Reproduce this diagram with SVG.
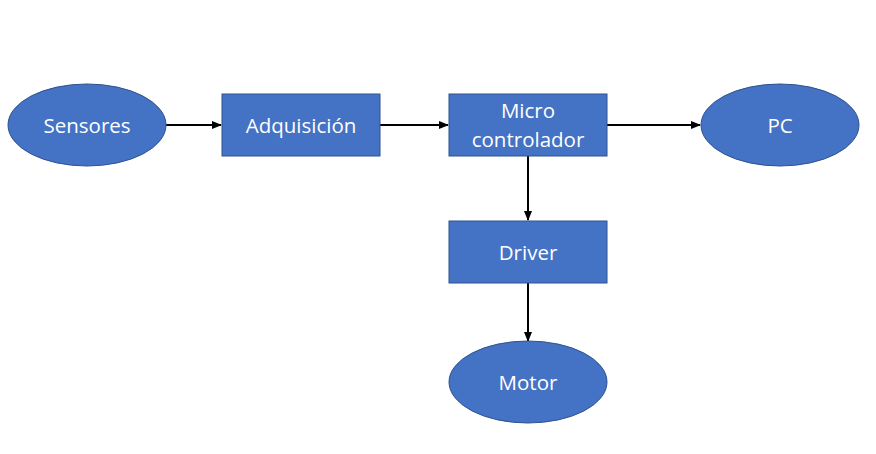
<svg xmlns="http://www.w3.org/2000/svg" width="876" height="454" viewBox="0 0 876 454">
<defs>
<style>
.n{fill:#4472C4;stroke:#2F528F;stroke-width:1}
.t{fill:#fff;font-family:"Open Sans","Liberation Sans",sans-serif;font-size:20.5px;text-anchor:middle;dominant-baseline:central}
.c{stroke:#000;stroke-width:2;fill:none}
</style>
<marker id="a" markerWidth="10" markerHeight="8" refX="9" refY="4" orient="auto" markerUnits="userSpaceOnUse">
<path d="M0,0 L10,4 L0,8 Z" fill="#000"/>
</marker>
</defs>
<rect width="876" height="454" fill="#fff"/>
<g id="connectors">
<line class="c" x1="166" y1="125" x2="221" y2="125" marker-end="url(#a)"/>
<line class="c" x1="380" y1="125" x2="448" y2="125" marker-end="url(#a)"/>
<line class="c" x1="607" y1="125" x2="700" y2="125" marker-end="url(#a)"/>
<line class="c" x1="528" y1="156" x2="528" y2="220" marker-end="url(#a)"/>
<line class="c" x1="528" y1="283" x2="528" y2="341" marker-end="url(#a)"/>
</g>
<g id="sensores"><ellipse class="n" cx="87" cy="125" rx="79" ry="41"/><text class="t" x="87" y="125">Sensores</text></g>
<g id="adquisicion"><rect class="n" x="222" y="94" width="158" height="62"/><text class="t" x="301" y="125">Adquisición</text></g>
<g id="micro"><rect class="n" x="449" y="94" width="158" height="62"/><text class="t" x="528" y="110">Micro</text><text class="t" x="528" y="139">controlador</text></g>
<g id="pc"><ellipse class="n" cx="780" cy="125" rx="79" ry="41"/><text class="t" x="780" y="125">PC</text></g>
<g id="driver"><rect class="n" x="449" y="221" width="158" height="62"/><text class="t" x="528" y="252">Driver</text></g>
<g id="motor"><ellipse class="n" cx="528" cy="382" rx="79" ry="41"/><text class="t" x="528" y="382">Motor</text></g>
</svg>
